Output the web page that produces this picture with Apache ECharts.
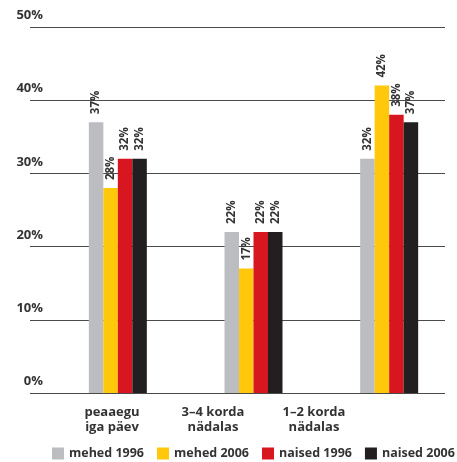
<!DOCTYPE html>
<html>
<head>
<meta charset="utf-8">
<script src="https://cdn.jsdelivr.net/npm/echarts@6/dist/echarts.min.js"></script>
<style>
  html, body { margin: 0; padding: 0; background: #fff; }
  #chart { width: 457px; height: 462px; }
</style>
</head>
<body>
<div id="chart"></div>
<script>
// Category labels shown under the chart
const categories = ['peaaegu\niga päev', '3–4 korda\nnädalas', '1–2 korda\nnädalas'];
// Bar groups (three clusters of four bars)
const barGroups = ['g1', 'g2', 'g3'];
// Series values, percent
const mehed1996 = [37, 22, 32];
const mehed2006 = [28, 17, 42];
const naised1996 = [32, 22, 38];
const naised2006 = [32, 22, 37];
const seriesNames = ['mehed 1996', 'mehed 2006', 'naised 1996', 'naised 2006'];
const seriesColors = ['#bcbdc1', '#ffc80a', '#d8161f', '#231f20'];
// Value axis
const yMin = 0, yMax = 50, yStep = 10;

const FONT = '"Open Sans", "Noto Sans", sans-serif';
const TEXT = '#333333';

const chart = echarts.init(document.getElementById('chart'), null, { renderer: 'canvas' });

const valueData = [mehed1996, mehed2006, naised1996, naised2006];

const series = valueData.map((vals, i) => ({
  name: seriesNames[i],
  type: 'bar',
  xAxisIndex: 1,
  yAxisIndex: 1,
  data: vals,
  barWidth: 14.5,
  barGap: '0%',
  itemStyle: { color: seriesColors[i] },
  label: {
    show: true,
    position: 'top',
    distance: 8,
    rotate: 90,
    align: 'left',
    verticalAlign: 'middle',
    formatter: '{c}%',
    fontFamily: FONT,
    fontSize: 11.5,
    fontWeight: 'bold',
    color: TEXT
  }
}));

chart.setOption({
  animation: false,
  backgroundColor: '#ffffff',
  textStyle: { fontFamily: FONT },
  grid: [
    { left: 30, right: 12, top: 27, bottom: 69 },
    { left: 50, width: 408, top: 27, bottom: 69 },
    { left: 61.5, width: 303, top: 27, bottom: 69 }
  ],
  legend: {
    data: seriesNames,
    left: 52,
    bottom: 2,
    padding: 0,
    width: 410,
    itemWidth: 12,
    itemHeight: 12,
    itemGap: 13,
    icon: 'rect',
    textStyle: { fontFamily: FONT, fontSize: 12.5, fontWeight: 'bold', color: TEXT }
  },
  xAxis: [
    { gridIndex: 0, type: 'value', show: false, min: 0, max: 1 },
    { gridIndex: 1, type: 'category', data: barGroups, show: false },
    {
      gridIndex: 2, type: 'category', data: categories,
      axisLine: { show: false }, axisTick: { show: false },
      axisLabel: {
        margin: 12, interval: 0,
        fontFamily: FONT, fontSize: 13, fontWeight: 'bold', color: TEXT, lineHeight: 15
      }
    }
  ],
  yAxis: [
    {
      gridIndex: 0, type: 'value', min: yMin, max: yMax, interval: yStep,
      axisLine: { show: false }, axisTick: { show: false },
      splitLine: { lineStyle: { color: '#4a4a4a', width: 1.2 } },
      axisLabel: {
        inside: true, margin: 13, align: 'right', verticalAlign: 'bottom',
        padding: [0, 0, 5, 0],
        formatter: '{value}%',
        fontFamily: FONT, fontSize: 13, fontWeight: 'bold', color: TEXT
      }
    },
    { gridIndex: 1, type: 'value', min: yMin, max: yMax, show: false },
    { gridIndex: 2, type: 'value', min: yMin, max: yMax, show: false }
  ],
  series: series
});
</script>
</body>
</html>
